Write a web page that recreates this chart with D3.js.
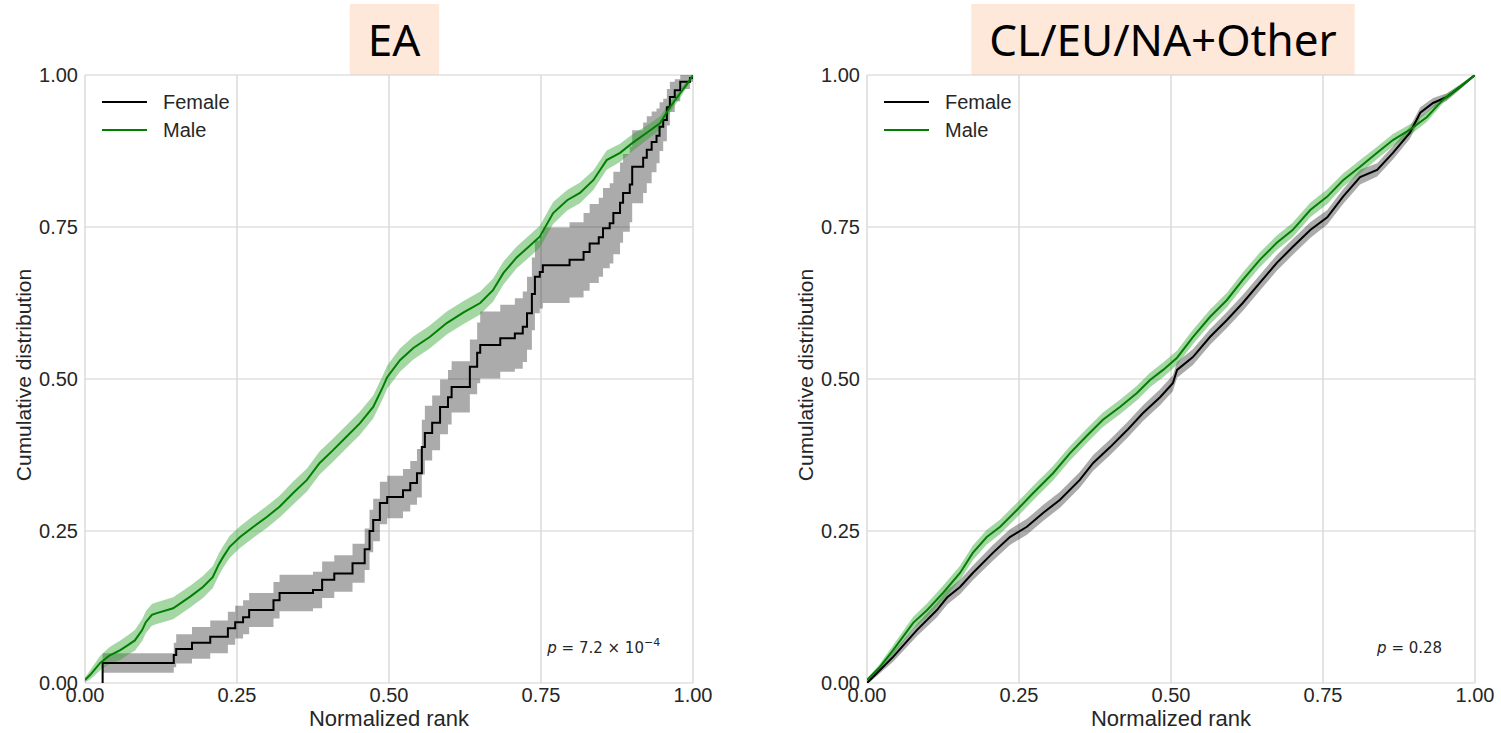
<!DOCTYPE html>
<html>
<head>
<meta charset="utf-8">
<script src="https://cdn.jsdelivr.net/npm/d3@7"></script>
<style>
  body { margin: 0; background: #fff; }
  svg { display: block; }
</style>
</head>
<body>
<svg id="chart" width="1501" height="733"></svg>
<script>
// panel titles and p-values
const panelTitles = ['EA', 'CL/EU/NA+Other'];
const pLabels = [['7.2', '\u22124'], ['0.28', null]];
const seriesNames = ['Female', 'Male'];
const tickValues = [0, 0.25, 0.5, 0.75, 1];
const tickLabels = ['0.00', '0.25', '0.50', '0.75', '1.00'];

// [normalized rank, cumulative share, band half-width]
const eaFemale = [
  [0.028, 0.000, 0.000], [0.029, 0.033, 0.016], [0.146, 0.046, 0.020], [0.150, 0.056, 0.024],
  [0.176, 0.066, 0.026], [0.206, 0.076, 0.027], [0.235, 0.090, 0.027], [0.247, 0.100, 0.027],
  [0.260, 0.108, 0.028], [0.270, 0.120, 0.028], [0.310, 0.136, 0.030], [0.320, 0.148, 0.030],
  [0.375, 0.153, 0.030], [0.390, 0.170, 0.030], [0.410, 0.180, 0.030], [0.440, 0.197, 0.032],
  [0.460, 0.220, 0.034], [0.468, 0.250, 0.035], [0.474, 0.268, 0.035], [0.485, 0.296, 0.035],
  [0.497, 0.306, 0.035], [0.523, 0.317, 0.035], [0.535, 0.329, 0.036], [0.546, 0.345, 0.040],
  [0.554, 0.388, 0.045], [0.559, 0.411, 0.045], [0.571, 0.428, 0.045], [0.584, 0.454, 0.045],
  [0.597, 0.470, 0.045], [0.603, 0.487, 0.042], [0.633, 0.520, 0.045], [0.645, 0.543, 0.050],
  [0.650, 0.556, 0.055], [0.683, 0.567, 0.055], [0.707, 0.575, 0.058], [0.720, 0.586, 0.058],
  [0.727, 0.608, 0.060], [0.735, 0.640, 0.060], [0.740, 0.668, 0.060], [0.748, 0.676, 0.060],
  [0.753, 0.687, 0.062], [0.797, 0.696, 0.062], [0.820, 0.709, 0.064], [0.830, 0.723, 0.065],
  [0.845, 0.733, 0.065], [0.852, 0.748, 0.066], [0.863, 0.756, 0.066], [0.869, 0.773, 0.068],
  [0.880, 0.790, 0.066], [0.885, 0.806, 0.064], [0.896, 0.820, 0.062], [0.900, 0.849, 0.060],
  [0.918, 0.864, 0.058], [0.924, 0.877, 0.055], [0.932, 0.890, 0.050], [0.940, 0.900, 0.045],
  [0.945, 0.915, 0.040], [0.951, 0.926, 0.035], [0.957, 0.947, 0.030], [0.962, 0.964, 0.025],
  [0.970, 0.975, 0.018], [0.979, 0.989, 0.012], [0.995, 0.995, 0.006], [1.000, 1.000, 0.000]
];

const eaMale = [
  [0.000, 0.005, 0.004], [0.010, 0.015, 0.008], [0.025, 0.033, 0.012], [0.040, 0.045, 0.014],
  [0.058, 0.054, 0.016], [0.070, 0.062, 0.016], [0.082, 0.070, 0.017], [0.094, 0.087, 0.018],
  [0.100, 0.100, 0.018], [0.110, 0.112, 0.018], [0.118, 0.115, 0.018], [0.145, 0.123, 0.018],
  [0.173, 0.142, 0.018], [0.194, 0.158, 0.018], [0.210, 0.174, 0.018], [0.220, 0.195, 0.018],
  [0.227, 0.207, 0.018], [0.238, 0.224, 0.018], [0.255, 0.240, 0.018], [0.277, 0.257, 0.018],
  [0.299, 0.273, 0.018], [0.320, 0.290, 0.018], [0.342, 0.312, 0.019], [0.365, 0.334, 0.019],
  [0.386, 0.362, 0.019], [0.408, 0.383, 0.019], [0.430, 0.405, 0.019], [0.452, 0.427, 0.019],
  [0.474, 0.454, 0.019], [0.490, 0.487, 0.019], [0.497, 0.503, 0.019], [0.518, 0.531, 0.019],
  [0.540, 0.551, 0.019], [0.567, 0.569, 0.019], [0.595, 0.592, 0.019], [0.622, 0.609, 0.019],
  [0.650, 0.625, 0.019], [0.671, 0.646, 0.019], [0.688, 0.674, 0.019], [0.710, 0.700, 0.018],
  [0.727, 0.715, 0.018], [0.748, 0.734, 0.018], [0.770, 0.773, 0.018], [0.793, 0.794, 0.017],
  [0.814, 0.806, 0.017], [0.836, 0.827, 0.016], [0.858, 0.860, 0.016], [0.880, 0.872, 0.015],
  [0.900, 0.888, 0.014], [0.924, 0.905, 0.012], [0.946, 0.921, 0.011], [0.962, 0.947, 0.009],
  [0.979, 0.970, 0.007], [0.995, 0.992, 0.004], [1.000, 1.000, 0.002]
];

const otherFemale = [
  [0.000, 0.000, 0.002], [0.010, 0.010, 0.004], [0.043, 0.043, 0.008], [0.082, 0.087, 0.010],
  [0.115, 0.120, 0.012], [0.132, 0.141, 0.012], [0.153, 0.158, 0.012], [0.174, 0.181, 0.012],
  [0.207, 0.214, 0.013], [0.235, 0.240, 0.013], [0.263, 0.257, 0.013], [0.290, 0.280, 0.013],
  [0.317, 0.301, 0.013], [0.350, 0.334, 0.013], [0.372, 0.362, 0.013], [0.400, 0.388, 0.013],
  [0.428, 0.416, 0.013], [0.454, 0.444, 0.013], [0.482, 0.470, 0.013], [0.503, 0.493, 0.013],
  [0.510, 0.515, 0.013], [0.536, 0.536, 0.013], [0.564, 0.569, 0.013], [0.592, 0.597, 0.013],
  [0.618, 0.625, 0.013], [0.646, 0.658, 0.013], [0.674, 0.691, 0.013], [0.700, 0.717, 0.013],
  [0.729, 0.745, 0.013], [0.757, 0.766, 0.012], [0.783, 0.800, 0.012], [0.811, 0.832, 0.012],
  [0.839, 0.844, 0.011], [0.865, 0.872, 0.011], [0.893, 0.905, 0.010], [0.910, 0.938, 0.009],
  [0.931, 0.954, 0.008], [0.954, 0.964, 0.006], [0.975, 0.980, 0.004], [1.000, 1.000, 0.002]
];

const otherMale = [
  [0.000, 0.005, 0.002], [0.020, 0.025, 0.005], [0.043, 0.054, 0.008], [0.076, 0.099, 0.010],
  [0.099, 0.120, 0.011], [0.125, 0.148, 0.012], [0.153, 0.181, 0.012], [0.174, 0.214, 0.012],
  [0.197, 0.240, 0.012], [0.219, 0.257, 0.012], [0.247, 0.285, 0.012], [0.273, 0.312, 0.012],
  [0.306, 0.345, 0.012], [0.334, 0.378, 0.012], [0.362, 0.407, 0.012], [0.388, 0.433, 0.012],
  [0.416, 0.454, 0.012], [0.444, 0.477, 0.012], [0.465, 0.498, 0.012], [0.487, 0.515, 0.012],
  [0.510, 0.535, 0.012], [0.536, 0.569, 0.012], [0.564, 0.602, 0.012], [0.592, 0.630, 0.012],
  [0.618, 0.663, 0.012], [0.646, 0.696, 0.012], [0.674, 0.724, 0.012], [0.700, 0.745, 0.012],
  [0.729, 0.778, 0.012], [0.757, 0.800, 0.012], [0.783, 0.827, 0.011], [0.811, 0.849, 0.011],
  [0.839, 0.872, 0.010], [0.865, 0.893, 0.010], [0.893, 0.910, 0.009], [0.921, 0.931, 0.008],
  [0.947, 0.959, 0.006], [0.975, 0.980, 0.004], [1.000, 1.000, 0.002]
];

const panelSeries = [[eaFemale, eaMale], [otherFemale, otherMale]];
const femaleCurves = [d3.curveStepAfter, d3.curveLinear];

const textColor = '#262626';
const gridColor = '#d2d2d2';
const seriesColors = ['#000000', '#008000'];
const bandColors = ['rgba(0,0,0,0.33)', 'rgba(40,160,40,0.42)'];

const panelLeft = [85, 867];
const titleShift = [5, -8];
const plotW = 608;
const plotTop = 75;
const plotH = 608;

var svg = d3.select('#chart');

panelTitles.forEach(function (title, i) {
  drawPanel(i, title);
});

function drawPanel(i, title) {
  const left = panelLeft[i];
  const x = d3.scaleLinear().domain([0, 1]).range([left, left + plotW]);
  const y = d3.scaleLinear().domain([0, 1]).range([plotTop + plotH, plotTop]);
  const g = svg.append('g');

  // title box behind the text
  const titleCx = left + plotW / 2 + titleShift[i];
  const box = g.append('rect').attr('fill', '#fde8da');
  const titleText = g.append('text')
    .attr('x', titleCx)
    .attr('y', 56)
    .attr('text-anchor', 'middle')
    .attr('font-family', 'Noto Sans, Open Sans, sans-serif')
    .attr('font-size', 44)
    .attr('fill', '#000')
    .text(title);
  const bb = titleText.node().getBBox();
  box.attr('x', bb.x - 18).attr('y', 4).attr('width', bb.width + 36).attr('height', 71);

  // grid
  g.append('g').selectAll('line.gx').data(tickValues).join('line')
    .attr('x1', d => x(d)).attr('x2', d => x(d))
    .attr('y1', y(0)).attr('y2', y(1))
    .attr('stroke', gridColor).attr('stroke-width', 1.2);
  g.append('g').selectAll('line.gy').data(tickValues).join('line')
    .attr('y1', d => y(d)).attr('y2', d => y(d))
    .attr('x1', x(0)).attr('x2', x(1))
    .attr('stroke', gridColor).attr('stroke-width', 1.2);

  // tick labels
  g.append('g').selectAll('text').data(tickValues).join('text')
    .attr('x', x(0) - 7)
    .attr('y', d => y(d))
    .attr('dy', '0.35em')
    .attr('text-anchor', 'end')
    .attr('font-family', 'Liberation Sans, Arial, sans-serif')
    .attr('font-size', 20)
    .attr('fill', textColor)
    .text((d, k) => tickLabels[k]);
  g.append('g').selectAll('text').data(tickValues).join('text')
    .attr('x', d => x(d))
    .attr('y', y(0) + 19)
    .attr('text-anchor', 'middle')
    .attr('font-family', 'Liberation Sans, Arial, sans-serif')
    .attr('font-size', 20)
    .attr('fill', textColor)
    .text((d, k) => tickLabels[k]);

  // axis titles
  g.append('text')
    .attr('x', x(0.5))
    .attr('y', 726)
    .attr('text-anchor', 'middle')
    .attr('font-family', 'Liberation Sans, Arial, sans-serif')
    .attr('font-size', 22)
    .attr('fill', textColor)
    .text('Normalized rank');
  g.append('text')
    .attr('transform', `translate(${left - 54},${y(0.5) - 4}) rotate(-90)`)
    .attr('text-anchor', 'middle')
    .attr('font-family', 'Liberation Sans, Arial, sans-serif')
    .attr('font-size', 21)
    .attr('fill', textColor)
    .text('Cumulative distribution');

  // clipped data layer
  const clipId = 'clip' + i;
  g.append('clipPath').attr('id', clipId)
    .append('rect')
    .attr('x', x(0)).attr('y', y(1))
    .attr('width', plotW).attr('height', plotH);
  const data = g.append('g').attr('clip-path', `url(#${clipId})`);

  const series = panelSeries[i];
  series.forEach(function (pts, s) {
    const curve = s === 0 ? femaleCurves[i] : d3.curveLinear;
    const area = d3.area()
      .x(d => x(d[0]))
      .y0(d => y(d[1] - d[2]))
      .y1(d => y(d[1] + d[2]))
      .curve(curve);
    data.append('path')
      .datum(pts)
      .attr('d', area)
      .attr('fill', bandColors[s]);
  });
  series.forEach(function (pts, s) {
    const curve = s === 0 ? femaleCurves[i] : d3.curveLinear;
    const line = d3.line()
      .x(d => x(d[0]))
      .y(d => y(d[1]))
      .curve(curve);
    data.append('path')
      .datum(pts)
      .attr('d', line)
      .attr('fill', 'none')
      .attr('stroke', seriesColors[s])
      .attr('stroke-width', 2);
  });

  // legend
  seriesNames.forEach(function (name, s) {
    const ly = 102 + s * 28;
    g.append('line')
      .attr('x1', left + 17).attr('x2', left + 62)
      .attr('y1', ly).attr('y2', ly)
      .attr('stroke', seriesColors[s])
      .attr('stroke-width', 2);
    g.append('text')
      .attr('x', left + 78)
      .attr('y', ly)
      .attr('dy', '0.35em')
      .attr('font-family', 'Liberation Sans, Arial, sans-serif')
      .attr('font-size', 20)
      .attr('fill', textColor)
      .text(name);
  });

  // p-value note
  const p = g.append('text')
    .attr('x', x(0.946))
    .attr('y', y(0.05))
    .attr('text-anchor', 'end')
    .attr('font-family', 'DejaVu Sans, sans-serif')
    .attr('font-size', 15)
    .attr('fill', textColor);
  p.append('tspan').attr('font-style', 'italic').text('p');
  const [mant, expo] = pLabels[i];
  if (expo) {
    p.append('tspan').text(' = ' + mant + ' \u00d7 10');
    p.append('tspan').attr('dy', -7).attr('font-size', 11).text(expo);
  } else {
    p.append('tspan').text(' = ' + mant);
  }
}
</script>
</body>
</html>
